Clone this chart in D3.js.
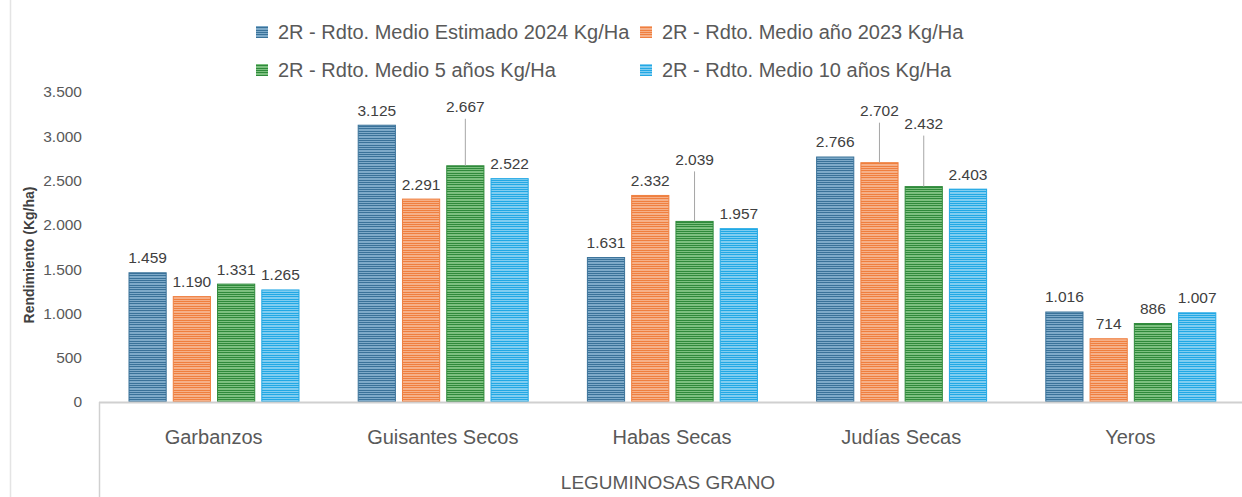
<!DOCTYPE html>
<html>
<head>
<meta charset="utf-8">
<script src="https://cdn.jsdelivr.net/npm/d3@7"></script>
<style>
  body { margin: 0; background: #fff; }
  svg { display: block; font-family: "Liberation Sans", Arial, sans-serif; }
</style>
</head>
<body>
<svg width="1242" height="497"></svg>
<script>
var categories = ['Garbanzos', 'Guisantes Secos', 'Habas Secas', 'Judías Secas', 'Yeros'];
var seriesNames = [
  '2R - Rdto. Medio Estimado 2024 Kg/Ha',
  '2R - Rdto. Medio año 2023 Kg/Ha',
  '2R - Rdto. Medio 5 años Kg/Ha',
  '2R - Rdto. Medio 10 años Kg/Ha'
];
var est2024 = [1459, 3125, 1631, 2766, 1016];
var año2023 = [1190, 2291, 2332, 2702, 714];
var medio5 = [1331, 2667, 2039, 2432, 886];
var medio10 = [1265, 2522, 1957, 2403, 1007];
var yTicks = [0, 500, 1000, 1500, 2000, 2500, 3000, 3500];

// colours: [dark, light]
var colors = [['#3a7299', '#7eaac9'], ['#ef7f3f', '#f6b088'], ['#2f8a3b', '#7cc07f'], ['#22a8e4', '#80cdf1']];
// extra lift of some labels (with leader line), keyed "cat-series"
var lift = {'1-2': 44, '2-2': 47, '3-1': 37, '3-2': 48};

var svg = d3.select('svg');
var allSeries = [est2024, año2023, medio5, medio10];

var x0 = d3.scaleBand().domain(categories).range([99, 1245]);
var x1 = d3.scaleBand().domain(d3.range(4)).range([30, 200]).paddingInner(0.16);
var y = d3.scaleLinear().domain([0, 3500]).range([402, 92]);

var fmt = d3.formatLocale({decimal: ',', thousands: '.', grouping: [3]}).format(',d');

// stripe patterns
var defs = svg.append('defs');
colors.forEach(function(c, i) {
  var p = defs.append('pattern')
    .attr('id', 'stripe' + i)
    .attr('patternUnits', 'userSpaceOnUse')
    .attr('width', 8).attr('height', 7);
  var rows = [c[0], c[1], c[0], c[1], c[1], c[0], c[1]];
  rows.forEach(function(col, r) {
    p.append('rect').attr('x', 0).attr('y', r).attr('width', 8).attr('height', 1).attr('fill', col);
  });
});

// left border line
svg.append('line')
  .attr('x1', 10.5).attr('x2', 10.5).attr('y1', 0).attr('y2', 497)
  .attr('stroke', '#e4e4e4').attr('stroke-width', 1.5);

// y axis labels
svg.append('g').selectAll('text')
  .data(yTicks).enter().append('text')
  .attr('x', 82).attr('y', d => y(d)).attr('dy', '0.35em')
  .attr('text-anchor', 'end')
  .attr('font-size', 15.5).attr('fill', '#595959')
  .text(d => fmt(d));

svg.append('text')
  .attr('transform', 'translate(34,255) rotate(-90)')
  .attr('text-anchor', 'middle')
  .attr('font-size', 14).attr('font-weight', 'bold').attr('fill', '#404040')
  .text('Rendimiento (Kg/ha)');

// bars
var groups = svg.append('g').selectAll('g')
  .data(categories).enter().append('g')
  .attr('transform', d => 'translate(' + x0(d) + ',0)');

var cells = groups.selectAll('g')
  .data((c, ci) => allSeries.map((s, si) => ({ci: ci, si: si, v: s[ci]})))
  .enter().append('g');

cells.append('rect')
  .attr('x', d => x1(d.si))
  .attr('width', x1.bandwidth())
  .attr('y', d => y(d.v))
  .attr('height', d => y(0) - y(d.v))
  .attr('fill', d => 'url(#stripe' + d.si + ')')
  .attr('stroke', d => colors[d.si][0])
  .attr('stroke-width', 1);

cells.filter(d => lift[d.ci + '-' + d.si])
  .append('line')
  .attr('x1', d => x1(d.si) + x1.bandwidth() / 2)
  .attr('x2', d => x1(d.si) + x1.bandwidth() / 2)
  .attr('y1', d => y(d.v) - 15 - lift[d.ci + '-' + d.si] + 12)
  .attr('y2', d => y(d.v))
  .attr('stroke', '#a6a6a6').attr('stroke-width', 1);

cells.append('text')
  .attr('x', d => x1(d.si) + x1.bandwidth() / 2)
  .attr('y', d => y(d.v) - 15 - (lift[d.ci + '-' + d.si] || 0))
  .attr('dy', '0.35em')
  .attr('text-anchor', 'middle')
  .attr('font-size', 15.5).attr('fill', '#404040')
  .text(d => fmt(d.v));

// baseline & category axis
svg.append('line')
  .attr('x1', 99).attr('x2', 1242).attr('y1', 402.5).attr('y2', 402.5)
  .attr('stroke', '#d0d0d0').attr('stroke-width', 2);
svg.append('line')
  .attr('x1', 99.5).attr('x2', 99.5).attr('y1', 402).attr('y2', 497)
  .attr('stroke', '#d0d0d0').attr('stroke-width', 1.5);

svg.append('g').selectAll('text')
  .data(categories).enter().append('text')
  .attr('x', d => x0(d) + x0.bandwidth() / 2)
  .attr('y', 437).attr('dy', '0.35em')
  .attr('text-anchor', 'middle')
  .attr('font-size', 20).attr('fill', '#595959')
  .text(d => d);

svg.append('text')
  .attr('x', 668).attr('y', 482).attr('dy', '0.35em')
  .attr('text-anchor', 'middle')
  .attr('font-size', 19).attr('fill', '#595959')
  .text('LEGUMINOSAS GRANO');

// legend
var legPos = [[256, 32], [640, 32], [256, 70], [640, 70]];
var leg = svg.append('g').selectAll('g')
  .data(seriesNames).enter().append('g')
  .attr('transform', (d, i) => 'translate(' + legPos[i][0] + ',' + legPos[i][1] + ')');
leg.append('rect')
  .attr('x', 0).attr('y', -6).attr('width', 12).attr('height', 12)
  .attr('fill', (d, i) => 'url(#stripe' + i + ')');
leg.append('text')
  .attr('x', 22).attr('dy', '0.35em')
  .attr('font-size', 20).attr('fill', '#595959')
  .text(d => d);
</script>
</body>
</html>
